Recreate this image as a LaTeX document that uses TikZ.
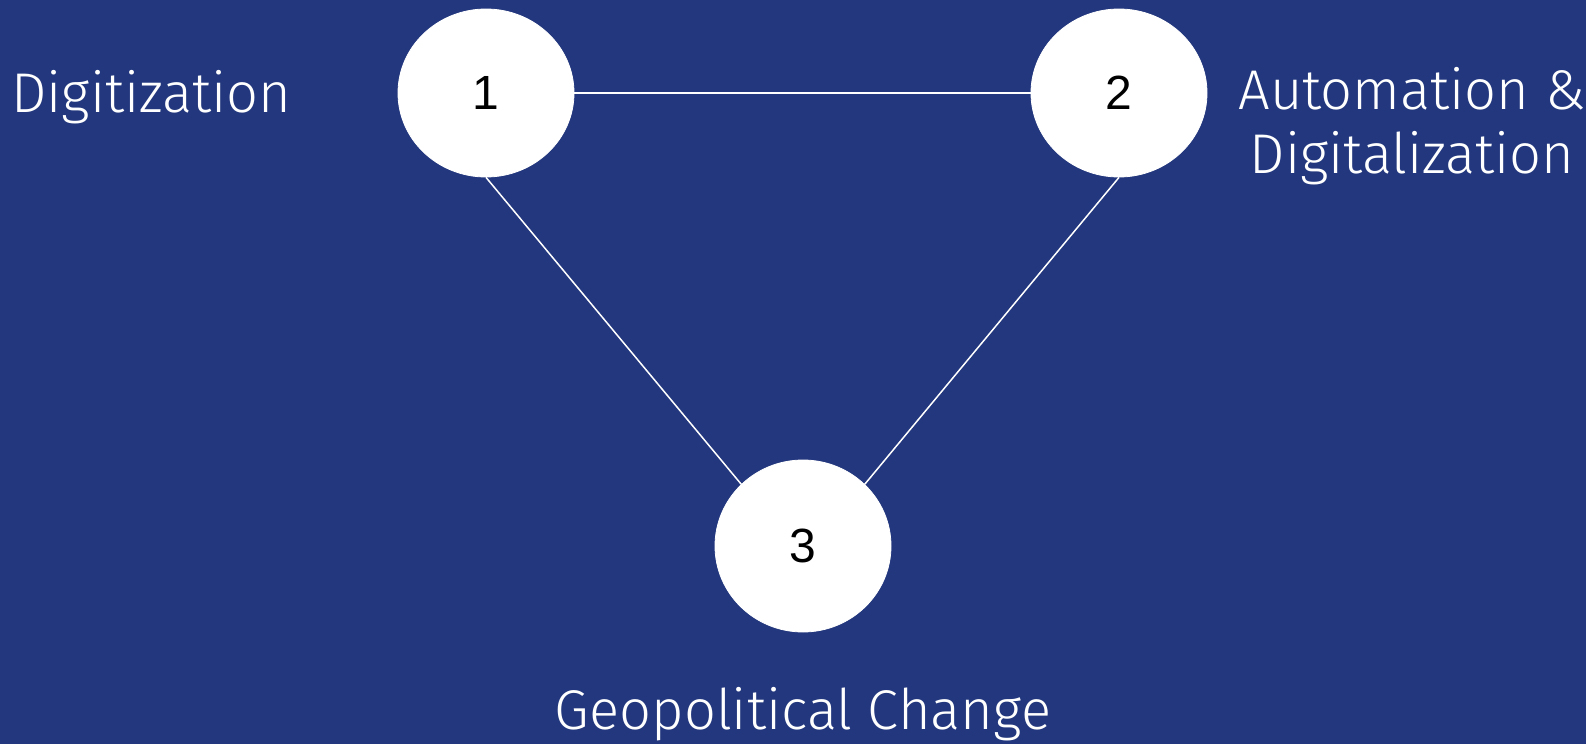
\documentclass[tikz,border=0pt]{standalone}
\usepackage{fontspec}
\setmainfont{Fira Sans Light}
\newfontfamily\numfont{Liberation Sans}
\usetikzlibrary{shapes.geometric}
\definecolor{navy}{RGB}{34,55,125}

\begin{document}
\begin{tikzpicture}[
  x=0.5pt, y=-0.5pt,
  bubble/.style={draw=white, fill=white, ellipse, minimum width=88pt, minimum height=84pt, inner sep=0pt, font=\numfont\fontsize{24}{27}\selectfont, text=black},
  label/.style={text=white, font=\fontsize{28}{32}\selectfont, align=center, inner sep=0pt},
  link/.style={draw=white, line width=0.75pt}
]
\fill[navy] (0,0) rectangle (1586,744);
\node[bubble] (c1) at (486,93) {1};
\node[bubble] (c2) at (1119,93) {2};
\node[bubble, minimum height=86pt] (c3) at (803,546) {3};
\node[label, anchor=west] (l1) at (11,97) {Digitization};
\node[label] (l2) at (1412,126) {Automation \&\\Digitalization};
\node[label] (l3) at (803,714) {Geopolitical Change};
\draw[link] (c1) -- (c2);
\draw[link] (c1.south) -- (c3.135);
\draw[link] (c2.south) -- (c3.45);
\end{tikzpicture}
\end{document}
